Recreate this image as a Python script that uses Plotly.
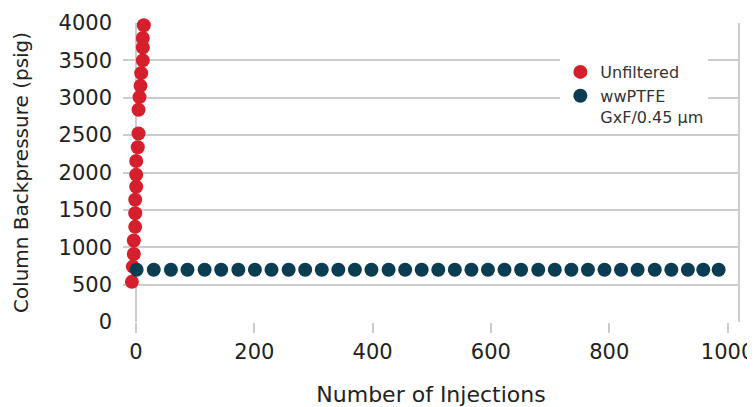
import plotly.graph_objects as go

# Unfiltered sample: injections vs column backpressure (psig)
unfiltered_inj = [-7, -5.4, -3.7, -3.7, -1.4, -1.4, -1.4, 0.3, 0.3, 0.3,
                  3, 4.2, 4.2, 5.9, 7.6, 8.8, 11.5, 11.5, 11.5, 13.2]
unfiltered_psi = [537, 741, 909, 1090, 1273, 1455, 1636, 1809, 1969, 2153,
                  2338, 2522, 2840, 3009, 3159, 3330, 3500, 3672, 3800, 3970]

# wwPTFE GxF/0.45 um filtered sample
filtered_inj = [1, 30, 59, 87, 116, 144, 173, 201, 229, 258, 286, 314,
                342, 370, 398, 427, 455, 483, 511, 539, 567, 595, 623, 651,
                680, 708, 736, 764, 792, 820, 848, 877, 905, 933, 959, 985]
filtered_psi = [700, 700, 700, 700, 700, 700, 700, 700, 700, 700, 700, 700,
                700, 700, 700, 700, 700, 700, 700, 700, 700, 700, 700, 700,
                700, 700, 700, 700, 700, 700, 700, 700, 700, 700, 700, 700]

x_ticks = [0, 200, 400, 600, 800, 1000]
y_ticks = [0, 500, 1000, 1500, 2000, 2500, 3000, 3500, 4000]

RED = "#D61F2C"
BLUE = "#0B3D52"
GRID = "#cccccc"
FONT = "DejaVu Sans"

fig = go.Figure()
fig.add_trace(go.Scatter(
    x=unfiltered_inj, y=unfiltered_psi, mode="markers", name="Unfiltered",
    marker=dict(color=RED, size=14), cliponaxis=False))
fig.add_trace(go.Scatter(
    x=filtered_inj, y=filtered_psi, mode="markers",
    name="wwPTFE<br>GxF/0.45 µm",
    marker=dict(color=BLUE, size=14), cliponaxis=False))

# page body adds an 8px offset, so the figure is sized to fill the window
fig.update_layout(
    width=747, height=399,
    margin=dict(l=115, r=16, t=15, b=85),
    paper_bgcolor="white", plot_bgcolor="white",
    font=dict(family=FONT, color="#222222"),
    showlegend=True,
    legend=dict(x=0.710, y=0.893, xanchor="left", yanchor="top",
                bgcolor="white", font=dict(size=16, color="#333333"),
                valign="top", tracegroupgap=0),
    shapes=[dict(type="line", xref="paper", yref="paper", x0=1, x1=1,
                 y0=0, y1=1, line=dict(color=GRID, width=2))],
)

fig.update_xaxes(
    range=[-22, 1019.4], tickvals=x_ticks, showgrid=False,
    zeroline=True, zerolinecolor=GRID, zerolinewidth=2,
    ticks="outside", ticklen=10, tickwidth=2, tickcolor=GRID,
    tickfont=dict(size=21, color="#222222"), ticklabelstandoff=1,
    title=dict(text="Number of Injections", font=dict(size=22, color="#222222"),
               standoff=28),
    showline=False, automargin=False,
)
fig.update_yaxes(
    range=[0, 4000], tickvals=y_ticks, showgrid=True, gridcolor=GRID,
    gridwidth=2, zeroline=False, ticks="",
    tickfont=dict(size=21, color="#222222"), ticklabelstandoff=10,
    title=dict(text="Column Backpressure (psig)",
               font=dict(size=20, color="#222222"), standoff=24),
    showline=False, automargin=False,
)

fig.write_html("out.html")
